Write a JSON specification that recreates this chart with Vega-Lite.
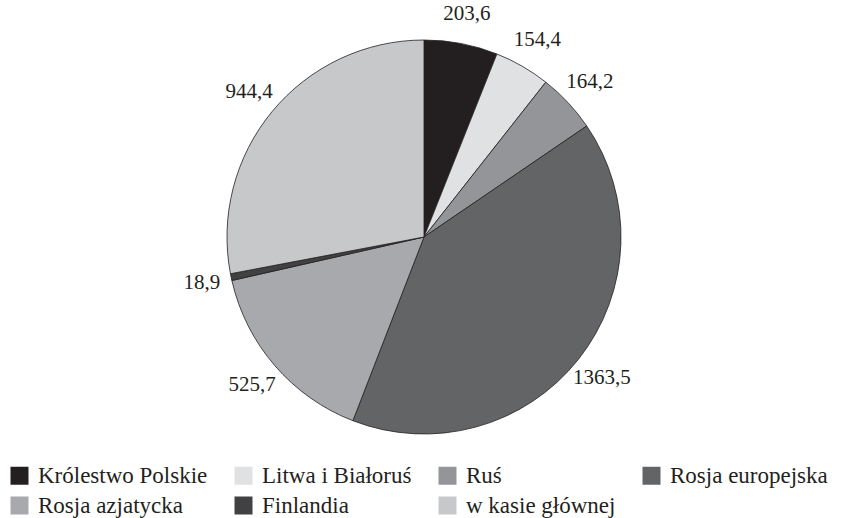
{
  "$schema": "https://vega.github.io/schema/vega-lite/v6.json",
  "width": 834,
  "height": 474,
  "autosize": {"type": "none"},
  "padding": {"left": 7, "top": 0, "right": 0, "bottom": 44},
  "background": "white",
  "config": {
    "view": {"stroke": null},
    "font": "Liberation Serif",
    "locale": {"number": {"decimal": ",", "thousands": "", "grouping": [3], "currency": ["", ""]}}
  },
  "data": {
    "values": [
      {"k": 1, "region": "Królestwo Polskie", "value": 203.6},
      {"k": 2, "region": "Litwa i Białoruś", "value": 154.4},
      {"k": 3, "region": "Ruś", "value": 164.2},
      {"k": 4, "region": "Rosja europejska", "value": 1363.5},
      {"k": 5, "region": "Rosja azjatycka", "value": 525.7},
      {"k": 6, "region": "Finlandia", "value": 18.9},
      {"k": 7, "region": "w kasie głównej", "value": 944.4}
    ]
  },
  "encoding": {
    "theta": {"field": "value", "type": "quantitative", "stack": true},
    "order": {"field": "k", "type": "quantitative"},
    "color": {
      "field": "region",
      "type": "nominal",
      "sort": ["Królestwo Polskie", "Litwa i Białoruś", "Ruś", "Rosja europejska", "Rosja azjatycka", "Finlandia", "w kasie głównej"],
      "scale": {
        "domain": ["Królestwo Polskie", "Litwa i Białoruś", "Ruś", "Rosja europejska", "Rosja azjatycka", "Finlandia", "w kasie głównej"],
        "range": ["#231f20", "#e0e1e2", "#939598", "#636466", "#a7a9ac", "#414042", "#c7c8ca"]
      },
      "legend": {
        "orient": "none",
        "legendX": 1,
        "legendY": 464,
        "direction": "horizontal",
        "columns": 4,
        "title": null,
        "padding": 0,
        "columnPadding": 24,
        "rowPadding": 6,
        "symbolType": "square",
        "symbolSize": 324,
        "symbolStrokeWidth": 0,
        "symbolOpacity": 1,
        "labelFont": "Liberation Serif",
        "labelFontSize": 23,
        "labelColor": "#231f20",
        "labelOffset": 7,
        "labelLimit": 400
      }
    }
  },
  "layer": [
    {
      "mark": {"type": "arc", "outerRadius": 197, "stroke": "#231f20", "strokeWidth": 0.8}
    },
    {
      "mark": {"type": "text", "radius": 227, "font": "Liberation Serif", "fontSize": 21, "align": "center", "baseline": "middle"},
      "encoding": {
        "text": {"field": "value", "type": "quantitative", "format": ".1f"},
        "color": {"value": "#231f20"}
      }
    }
  ]
}
